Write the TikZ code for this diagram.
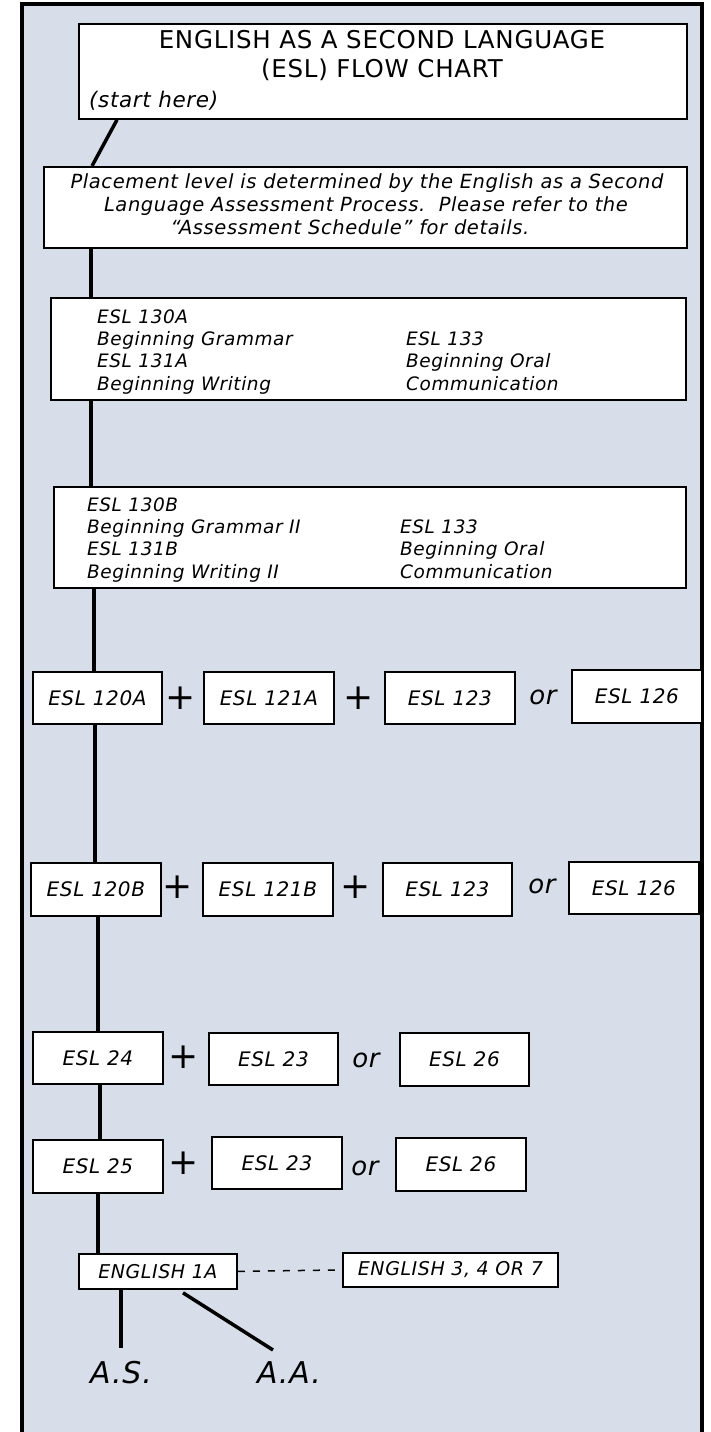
\documentclass[tikz,border=0pt]{standalone}
\usepackage{fontspec}
\setmainfont{DejaVu Sans}[LetterSpace=3]
\newfontfamily\plusfont{DejaVu Sans}
\definecolor{bgc}{RGB}{215,222,233}
\newcommand\fs[1]{\fontsize{#1}{#1}\selectfont}
\begin{document}
\begin{tikzpicture}[x=1pt,y=-1pt,
  bx/.style={draw=black,line width=1.8pt,fill=white,inner sep=0pt,anchor=north west,font=\fs{20}\itshape},
  txt/.style={inner sep=0pt},
  conn/.style={line width=3.5pt},
  plus/.style={inner sep=0pt,font=\plusfont\fs{36}\itshape},
  orw/.style={inner sep=0pt,font=\fs{26}\itshape},
  boxtxt/.style={inner sep=0pt,anchor=base west,font=\fs{18.5}\itshape},
  ptxt/.style={inner sep=0pt,anchor=base,font=\fs{19.5}\itshape},
  deg/.style={inner sep=0pt,font=\fs{30}\itshape}]
\useasboundingbox (0,0) rectangle (711,1432);
% outer frame
\draw[line width=4pt,fill=bgc] (22,1440) -- (22,4) -- (702,4) -- (702,1440);

% title box
\node[bx,minimum width=608,minimum height=95] (T) at (78,23) {};
\node[txt,anchor=base,font=\fs{24.5}] (t1) at (382,48) {ENGLISH AS A SECOND LANGUAGE};
\node[txt,anchor=base,font=\fs{24.5}] (t2) at (382,77) {(ESL) FLOW CHART};
\node[txt,anchor=base west,font=\fs{21.5}\itshape] (t3) at (89,107) {(start here)};

% placement box
\node[bx,minimum width=643,minimum height=81] (P) at (43,166) {};
\node[ptxt] (p1) at (367,188) {Placement level is determined by the English as a Second};
\node[ptxt] (p2) at (366,211) {Language Assessment Process.\ \ Please refer to the};
\node[ptxt] (p3) at (350,234) {“Assessment Schedule” for details.};

% 130A box
\node[bx,minimum width=635,minimum height=102] (A130) at (50,297) {};
\node[boxtxt] (a1) at (97,323) {ESL 130A};
\node[boxtxt] (a2) at (97,345) {Beginning Grammar};
\node[boxtxt] (a3) at (97,367) {ESL 131A};
\node[boxtxt] (a4) at (97,390) {Beginning Writing};
\node[boxtxt] (a5) at (406,345) {ESL 133};
\node[boxtxt] (a6) at (406,367) {Beginning Oral};
\node[boxtxt] (a7) at (406,390) {Communication};

% 130B box
\node[bx,minimum width=632,minimum height=101] (B130) at (53,486) {};
\node[boxtxt] (b1) at (87,511) {ESL 130B};
\node[boxtxt] (b2) at (87,533) {Beginning Grammar II};
\node[boxtxt] (b3) at (87,555) {ESL 131B};
\node[boxtxt] (b4) at (87,578) {Beginning Writing II};
\node[boxtxt] (b5) at (400,533) {ESL 133};
\node[boxtxt] (b6) at (400,555) {Beginning Oral};
\node[boxtxt] (b7) at (400,578) {Communication};

% row A
\node[bx,minimum width=129,minimum height=52] (e120a) at (32,671) {ESL 120A};
\node[plus] (pa1) at (181,698) {+};
\node[bx,minimum width=130,minimum height=52] (e121a) at (203,671) {ESL 121A};
\node[plus] (pa2) at (359,698) {+};
\node[bx,minimum width=130,minimum height=52] (e123a) at (384,671) {ESL 123};
\node[orw] (oa) at (543,697) {or};
\node[bx,minimum width=130,minimum height=53] (e126a) at (571,669) {ESL 126};

% row B
\node[bx,minimum width=130,minimum height=53] (e120b) at (30,862) {ESL 120B};
\node[plus] (pb1) at (178,887) {+};
\node[bx,minimum width=130,minimum height=53] (e121b) at (202,862) {ESL 121B};
\node[plus] (pb2) at (356,887) {+};
\node[bx,minimum width=129,minimum height=53] (e123b) at (382,862) {ESL 123};
\node[orw] (ob) at (542,886) {or};
\node[bx,minimum width=130,minimum height=52] (e126b) at (568,861) {ESL 126};

% row C
\node[bx,minimum width=130,minimum height=52] (e24) at (32,1031) {ESL 24};
\node[plus] (pc1) at (184,1057) {+};
\node[bx,minimum width=129,minimum height=52] (e23c) at (208,1032) {ESL 23};
\node[orw] (oc) at (366,1060) {or};
\node[bx,minimum width=129,minimum height=53] (e26c) at (399,1032) {ESL 26};

% row D
\node[bx,minimum width=130,minimum height=53] (e25) at (32,1139) {ESL 25};
\node[plus] (pd1) at (184,1163) {+};
\node[bx,minimum width=130,minimum height=52] (e23d) at (211,1136) {ESL 23};
\node[orw] (od) at (365,1168) {or};
\node[bx,minimum width=130,minimum height=53] (e26d) at (395,1137) {ESL 26};

% English
\node[bx,minimum width=158,minimum height=35,font=\fs{19}\itshape] (e1a) at (78,1253) {ENGLISH 1A};
\node[bx,minimum width=215,minimum height=34,font=\fs{19}\itshape] (e347) at (342,1252) {ENGLISH 3, 4 OR 7};

% degrees
\node[deg] (as) at (121,1373) {A.S.};
\node[deg] (aa) at (289,1373) {A.A.};
\coordinate (asend) at (121,1348);
\coordinate (aaend) at (273,1350);

% connectors
\draw[conn] ([xshift=39pt]T.south west) -- ([xshift=49pt]P.north west);
\draw[conn] ([xshift=48pt]P.south west) -- ([xshift=41pt]A130.north west);
\draw[conn] ([xshift=41pt]A130.south west) -- ([xshift=38pt]B130.north west);
\draw[conn] ([xshift=41pt]B130.south west) -- ([xshift=62pt]e120a.north west);
\draw[conn] ([xshift=63pt]e120a.south west) -- ([xshift=65pt]e120b.north west);
\draw[conn] ([xshift=68pt]e120b.south west) -- ([xshift=66pt]e24.north west);
\draw[conn] ([xshift=68pt]e24.south west) -- ([xshift=68pt]e25.north west);
\draw[conn] ([xshift=66pt]e25.south west) -- ([xshift=20pt]e1a.north west);
\draw[conn] ([xshift=43pt]e1a.south west) -- (asend);
\draw[conn] ([xshift=105pt,yshift=-3pt]e1a.south west) -- (aaend);
\draw[line width=1.5pt,dash pattern=on 7pt off 8pt] (e1a.east) -- (e347.west);
\end{tikzpicture}
\end{document}
